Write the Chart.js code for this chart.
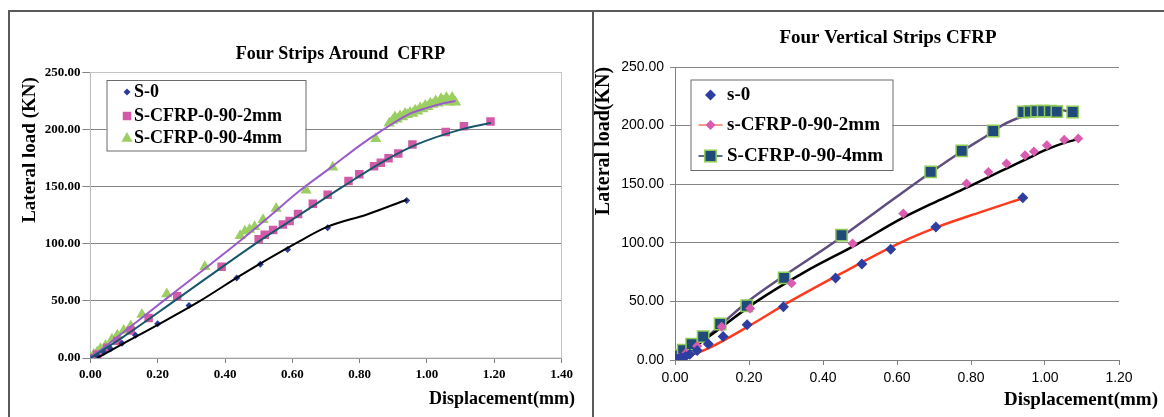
<!DOCTYPE html>
<html>
<head>
<meta charset="utf-8">
<script src="https://cdn.jsdelivr.net/npm/chart.js"></script>
<style>
  html, body { margin: 0; padding: 0; background: #fff; }
  body { width: 1164px; height: 417px; position: relative; overflow: hidden; }
  .frame { position: absolute; background: #5a5a5a; }
  canvas { position: absolute; }
</style>
</head>
<body>
<div class="frame" style="left:8px;top:10px;width:1156px;height:1.5px"></div>
<div class="frame" style="left:8px;top:10px;width:1.5px;height:407px"></div>
<div class="frame" style="left:592px;top:10px;width:1.5px;height:407px"></div>
<canvas id="left" width="582" height="406" style="left:9px;top:11px;width:582px;height:406px"></canvas>
<canvas id="right" width="570" height="406" style="left:594px;top:11px;width:570px;height:406px"></canvas>
<script>
// ---- Four Strips Around CFRP (left) ----
const aroundS0Disp = [0.00, 0.02, 0.04, 0.06, 0.094, 0.134, 0.20, 0.293, 0.435, 0.505, 0.586, 0.705, 0.94];
const aroundS0Load = [0, 2, 5, 8, 13, 20, 30, 46, 70, 82, 95, 114, 138];
const around2Disp = [0.00, 0.02, 0.05, 0.08, 0.12, 0.173, 0.258, 0.39, 0.50, 0.518, 0.543, 0.572, 0.592, 0.617, 0.661, 0.705, 0.767, 0.799, 0.843, 0.863, 0.886, 0.915, 0.957, 1.056, 1.11, 1.189];
const around2Load = [0, 3, 9, 15, 24, 35, 54, 80, 104, 108, 112, 117, 120, 126, 135, 143, 155, 161, 168, 171, 175, 179, 187, 198, 203, 207];
const around4Disp = [0.00, 0.01, 0.02, 0.03, 0.045, 0.064, 0.08, 0.099, 0.12, 0.153, 0.227, 0.34, 0.445, 0.459, 0.473, 0.488, 0.513, 0.552, 0.641, 0.72, 0.848,
  0.888, 0.898, 0.905, 0.912, 0.92, 0.928, 0.935, 0.942, 0.95, 0.958, 0.965, 0.973, 0.98, 0.988, 0.995, 1.003, 1.01, 1.018, 1.026, 1.034, 1.042, 1.05, 1.058, 1.066, 1.075, 1.085];
const around4Load = [0, 3, 5, 8, 11, 16.5, 20, 24, 28, 38, 56, 80, 107, 111, 112.5, 115, 121, 131, 147, 167, 192,
  205.5, 208, 211, 209, 212, 211, 214, 213, 215, 214, 217, 216, 219, 218, 221, 220, 223, 222, 225, 223, 227, 225, 228, 224, 228, 224];
// trendlines
const aroundS0TrendDisp = [0.02, 0.10, 0.20, 0.326, 0.45, 0.614, 0.705, 0.82, 0.94];
const aroundS0TrendLoad = [0, 13, 29, 50, 73, 101, 115, 125.5, 138.6];
const around2TrendDisp = [0.00, 0.10, 0.25, 0.49, 0.62, 0.75, 0.87, 0.97, 1.10, 1.19];
const around2TrendLoad = [0, 19, 50, 100, 125, 150, 172, 187, 200, 206];
const around4TrendDisp = [0.00, 0.10, 0.217, 0.30, 0.434, 0.52, 0.62, 0.72, 0.80, 0.87, 0.95, 1.00, 1.05, 1.085];
const around4TrendLoad = [0, 23, 50, 69, 100, 121, 146, 168, 186, 200, 214, 219, 223, 225];

// ---- Four Vertical Strips CFRP (right) ----
const vertS0Disp = [0.00, 0.005, 0.01, 0.018, 0.028, 0.04, 0.06, 0.09, 0.13, 0.195, 0.293, 0.434, 0.505, 0.583, 0.705, 0.94];
const vertS0Load = [0, 0.5, 1, 2, 3, 5, 8, 13.6, 20, 30, 45.5, 70, 82, 94.5, 113.5, 138.5];
const vert2Disp = [0.00, 0.01, 0.03, 0.06, 0.126, 0.203, 0.315, 0.48, 0.617, 0.788, 0.847, 0.896, 0.946, 0.97, 1.005, 1.052, 1.09];
const vert2Load = [0, 2, 6, 12, 28.4, 44, 65.4, 99.5, 125, 150.6, 160.5, 167.6, 174.7, 178, 183.2, 188, 189];
const vert4Disp = [0.00, 0.005, 0.01, 0.022, 0.045, 0.076, 0.122, 0.194, 0.295, 0.45, 0.691, 0.775, 0.86, 0.941, 0.959, 0.977, 0.995, 1.014, 1.032, 1.075];
const vert4Load = [0, 2, 4, 8.5, 13.6, 19.9, 30.7, 46.3, 70.1, 106.5, 160.5, 178.4, 195.4, 211.6, 212, 212.3, 212.3, 212.3, 212, 211.6];
const vertS0TrendDisp = [0.01, 0.05, 0.10, 0.20, 0.311, 0.45, 0.608, 0.705, 0.824, 0.94];
const vertS0TrendLoad = [1, 5, 11.5, 29, 50, 74, 100, 113, 126, 138];
const vert2TrendDisp = [0.014, 0.10, 0.221, 0.35, 0.49, 0.608, 0.705, 0.788, 0.85, 0.90, 0.95, 1.00, 1.05, 1.09];
const vert2TrendLoad = [2, 22, 50, 75, 98.5, 120, 135, 147, 156.5, 164, 171.5, 179, 185, 188.5];
const vert4TrendDisp = [0.014, 0.076, 0.197, 0.30, 0.428, 0.55, 0.691, 0.78, 0.851, 0.883, 0.95, 1.014, 1.05, 1.075];
const vert4TrendLoad = [3, 17, 50, 73, 100, 128, 160, 179, 193, 200, 209, 214, 213, 211];

const serif = "'Liberation Serif', 'Times New Roman', serif";
const sans = "'Liberation Sans', Arial, sans-serif";

function pts(xs, ys) {
  return xs.map(function (x, i) { return { x: x, y: ys[i] }; });
}

// free text: titles and axis names
const texts = {
  id: 'texts',
  afterDraw(chart, args, o) {
    const ctx = chart.ctx;
    (o.items || []).forEach(function (t) {
      ctx.save();
      ctx.font = t.font;
      ctx.fillStyle = '#000';
      ctx.textAlign = t.align || 'center';
      ctx.textBaseline = 'middle';
      ctx.translate(t.x, t.y);
      if (t.rotate) ctx.rotate(t.rotate);
      ctx.fillText(t.text, 0, 0);
      ctx.restore();
    });
  }
};

// boxed legend sitting inside the plot, like the Excel one
const boxLegend = {
  id: 'boxLegend',
  afterDraw(chart, args, o) {
    if (!o.items) return;
    const ctx = chart.ctx;
    ctx.save();
    ctx.fillStyle = '#fff';
    ctx.fillRect(o.x, o.y, o.w, o.h);
    ctx.strokeStyle = '#6a6a6a';
    ctx.lineWidth = 1;
    ctx.strokeRect(o.x + 0.5, o.y + 0.5, o.w, o.h);
    ctx.font = o.font;
    ctx.textBaseline = 'middle';
    ctx.textAlign = 'left';
    o.items.forEach(function (it, i) {
      const ds = chart.data.datasets[it.dataset];
      const cy = o.y + o.rows[i];
      if (it.line) {
        ctx.strokeStyle = it.line;
        ctx.lineWidth = 1.5;
        ctx.beginPath();
        ctx.moveTo(o.markX - 12, cy);
        ctx.lineTo(o.markX + 12, cy);
        ctx.stroke();
      }
      ctx.fillStyle = ds.backgroundColor;
      ctx.strokeStyle = ds.borderColor;
      ctx.lineWidth = ds.borderWidth;
      Chart.helpers.drawPoint(ctx, {
        pointStyle: ds.pointStyle, radius: ds.pointRadius, rotation: 0, borderWidth: ds.borderWidth
      }, o.markX, cy);
      ctx.fillStyle = '#000';
      ctx.fillText(ds.label, o.textX, cy);
    });
    ctx.restore();
  }
};

// light plot-area border (left chart only)
const plotFrame = {
  id: 'plotFrame',
  beforeDatasetsDraw(chart, args, o) {
    if (!o.color) return;
    const a = chart.chartArea;
    chart.ctx.save();
    chart.ctx.strokeStyle = o.color;
    chart.ctx.lineWidth = 1;
    chart.ctx.strokeRect(a.left, a.top, a.right - a.left, a.bottom - a.top);
    chart.ctx.restore();
  }
};

function markers(label, xs, ys, style, radius, fill, border, bw) {
  return {
    label: label, data: pts(xs, ys), showLine: false,
    pointStyle: style, pointRadius: radius, pointHoverRadius: radius,
    backgroundColor: fill, borderColor: border, borderWidth: bw
  };
}

function trend(xs, ys, color, width) {
  return {
    label: '', data: pts(xs, ys), showLine: true, pointRadius: 0,
    borderColor: color, borderWidth: width, backgroundColor: color,
    cubicInterpolationMode: 'monotone', fill: false
  };
}

function axes(o) {
  return {
    x: {
      type: 'linear', min: 0, max: o.xMax,
      afterFit: function (s) { s.height = o.xHeight; },
      ticks: { stepSize: 0.2, padding: o.xPad, color: '#000', font: o.tickFont,
        callback: function (v) { return v.toFixed(2); } },
      grid: { drawOnChartArea: false, drawTicks: true, tickLength: 5, color: '#7f7f7f' },
      border: { color: '#7f7f7f' }
    },
    y: {
      type: 'linear', min: 0, max: 250,
      afterFit: function (s) { s.width = o.yWidth; },
      ticks: { stepSize: 50, padding: o.yPad, color: '#000', font: o.tickFont,
        callback: function (v) { return v.toFixed(2); } },
      grid: { color: '#858585', tickLength: o.yTick, drawTicks: true },
      border: { color: '#7f7f7f' }
    }
  };
}

new Chart(document.getElementById('left'), {
  type: 'scatter',
  data: {
    datasets: [
      trend(aroundS0TrendDisp, aroundS0TrendLoad, '#000000', 2),
      trend(around2TrendDisp, around2TrendLoad, '#17566b', 2),
      trend(around4TrendDisp, around4TrendLoad, '#9b5ccb', 2),
      markers('S-0', aroundS0Disp, aroundS0Load, 'rectRot', 3.5, '#2b3d9b', '#2b3d9b', 0),
      markers('S-CFRP-0-90-2mm', around2Disp, around2Load, 'rect', 6, '#d35aa8', '#d35aa8', 0),
      markers('S-CFRP-0-90-4mm', around4Disp, around4Load, 'triangle', 6.5, '#9bcf62', '#9bcf62', 0)
    ]
  },
  options: {
    responsive: false,
    animation: false,
    layout: { padding: { left: 0, top: 61.5, right: 29.5, bottom: 0 } },
    scales: axes({ xMax: 1.4, xHeight: 59, xPad: 4, yWidth: 81.4, yPad: 2, yTick: 8,
      tickFont: { family: serif, size: 13, weight: 'bold' } }),
    plugins: {
      legend: { display: false },
      tooltip: { enabled: false },
      plotFrame: { color: '#c4c4c4' },
      texts: { items: [
        { text: 'Four Strips Around  CFRP', x: 331.5, y: 43, font: 'bold 18px ' + serif },
        { text: 'Lateral load (KN)', x: 21, y: 139, rotate: -Math.PI / 2, font: 'bold 19px ' + serif },
        { text: 'Displacement(mm)', x: 566, y: 388, align: 'right', font: 'bold 18px ' + serif }
      ] },
      boxLegend: {
        x: 97.5, y: 69, w: 199, h: 70.5, markX: 118, textX: 125,
        rows: [12, 36, 58.5], font: 'bold 18px ' + serif,
        items: [{ dataset: 3 }, { dataset: 4 }, { dataset: 5 }]
      }
    }
  },
  plugins: [plotFrame, texts, boxLegend]
});

new Chart(document.getElementById('right'), {
  type: 'scatter',
  data: {
    datasets: [
      markers('s-0', vertS0Disp, vertS0Load, 'rectRot', 5.5, '#2e3ea0', '#2e3ea0', 0),
      markers('s-CFRP-0-90-2mm', vert2Disp, vert2Load, 'rectRot', 5, '#d85cb0', '#d85cb0', 0),
      markers('S-CFRP-0-90-4mm', vert4Disp, vert4Load, 'rect', 8, '#1f4a7a', '#8fcb55', 1.5),
      trend(vertS0TrendDisp, vertS0TrendLoad, '#ff3b1e', 2.5),
      trend(vert2TrendDisp, vert2TrendLoad, '#000000', 2.5),
      trend(vert4TrendDisp, vert4TrendLoad, '#5f4d80', 2.5)
    ]
  },
  options: {
    responsive: false,
    animation: false,
    layout: { padding: { left: 0, top: 56, right: 45, bottom: 0 } },
    scales: axes({ xMax: 1.2, xHeight: 57, xPad: 5, yWidth: 81, yPad: 6, yTick: 5,
      tickFont: { family: sans, size: 14 } }),
    plugins: {
      legend: { display: false },
      tooltip: { enabled: false },
      texts: { items: [
        { text: 'Four Vertical Strips CFRP', x: 294, y: 27.5, font: 'bold 19px ' + serif },
        { text: 'Lateral load(KN)', x: 10, y: 130, rotate: -Math.PI / 2, font: 'bold 20px ' + serif },
        { text: 'Displacement(mm)', x: 564, y: 389, align: 'right', font: 'bold 19px ' + serif }
      ] },
      boxLegend: {
        x: 96.5, y: 68.5, w: 202, h: 90.5, markX: 116.5, textX: 133,
        rows: [15.5, 45.5, 76.5], font: 'bold 19px ' + serif,
        items: [{ dataset: 0 }, { dataset: 1, line: '#f47a62' }, { dataset: 2, line: '#1f3f6e' }]
      }
    }
  },
  plugins: [texts, boxLegend]
});
</script>
</body>
</html>
